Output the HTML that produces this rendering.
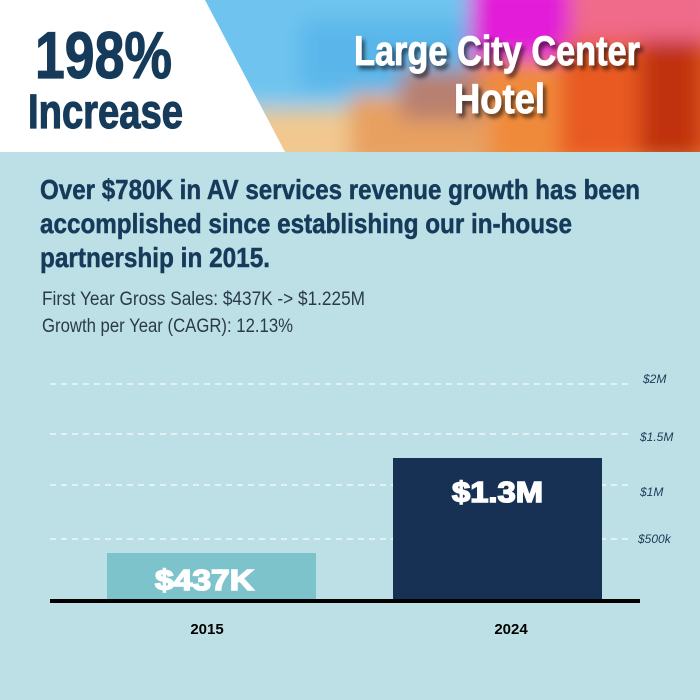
<!DOCTYPE html>
<html><head><meta charset="utf-8"><style>
html,body{margin:0;padding:0;width:700px;height:700px;overflow:hidden;background:#bde0e6}
svg{display:block}
</style></head><body>
<svg width="700" height="700" viewBox="0 0 700 700" xmlns="http://www.w3.org/2000/svg">
<defs>
<filter id="bl" x="-30%" y="-30%" width="160%" height="160%"><feGaussianBlur stdDeviation="10"/></filter>
<filter id="sh" x="-10%" y="-10%" width="130%" height="140%"><feDropShadow dx="3" dy="4" stdDeviation="2" flood-color="#000" flood-opacity="0.6"/></filter>
<clipPath id="hc"><rect x="0" y="0" width="700" height="152"/></clipPath>
</defs>
<rect x="0" y="0" width="700" height="700" fill="#bde0e6"/>
<g clip-path="url(#hc)">
<rect x="180" y="0" width="520" height="152" fill="#8fcbe8"/>
<g filter="url(#bl)">
<rect x="180" y="-20" width="300" height="120" fill="#6ec4ee"/>
<rect x="300" y="20" width="180" height="70" fill="#5ab6ea"/>
<rect x="470" y="-20" width="110" height="90" fill="#e21ad8"/>
<rect x="570" y="-20" width="150" height="60" fill="#f06a8a"/>
<rect x="470" y="60" width="250" height="110" fill="#f08a3a"/>
<rect x="560" y="40" width="160" height="120" fill="#e85a20"/>
<rect x="250" y="110" width="230" height="60" fill="#f2c890"/>
<rect x="350" y="95" width="140" height="70" fill="#e8a060"/>
<rect x="640" y="40" width="60" height="120" fill="#c03010"/>
<rect x="400" y="70" width="80" height="50" fill="#b88070"/>
</g>
</g>
<polygon points="0,0 205,0 285,152 0,152" fill="#ffffff"/>
<g font-family="'Liberation Sans Narrow','Liberation Sans',sans-serif" font-weight="bold" fill="#163a5a" stroke="#163a5a" stroke-width="1.2">
<text x="35" y="78" font-size="66" textLength="137" lengthAdjust="spacingAndGlyphs">198%</text>
<text x="28" y="128" font-size="48" textLength="155" lengthAdjust="spacingAndGlyphs">Increase</text>
</g>
<g font-family="'Liberation Sans Narrow','Liberation Sans',sans-serif" font-weight="bold" fill="#ffffff" stroke="#ffffff" stroke-width="0.8" filter="url(#sh)">
<text x="354" y="65" font-size="42" textLength="286" lengthAdjust="spacingAndGlyphs">Large City Center</text>
<text x="454" y="113" font-size="42" textLength="91" lengthAdjust="spacingAndGlyphs">Hotel</text>
</g>
<g font-family="'Liberation Sans Narrow','Liberation Sans',sans-serif" font-weight="bold" fill="#163a5a" stroke="#163a5a" stroke-width="0.5" font-size="28">
<text x="40" y="199" textLength="600" lengthAdjust="spacingAndGlyphs">Over $780K in AV services revenue growth has been</text>
<text x="40" y="233" textLength="532" lengthAdjust="spacingAndGlyphs">accomplished since establishing our in-house</text>
<text x="40" y="267" textLength="230" lengthAdjust="spacingAndGlyphs">partnership in 2015.</text>
</g>
<g font-family="'Liberation Sans Narrow','Liberation Sans',sans-serif" fill="#2a3a4a" font-size="19">
<text x="42" y="305" textLength="323" lengthAdjust="spacingAndGlyphs">First Year Gross Sales: $437K -&gt; $1.225M</text>
<text x="42" y="332" textLength="251" lengthAdjust="spacingAndGlyphs">Growth per Year (CAGR): 12.13%</text>
</g>
<g stroke="#ffffff" stroke-width="1.3" stroke-dasharray="6,5" opacity="0.9">
<line x1="50" y1="384" x2="628" y2="384"/>
<line x1="50" y1="434" x2="628" y2="434"/>
<line x1="50" y1="485" x2="628" y2="485"/>
<line x1="50" y1="539" x2="628" y2="539"/>
</g>
<g font-family="'Liberation Sans',sans-serif" font-style="italic" fill="#1c3a5a" font-size="12">
<text x="643" y="383">$2M</text>
<text x="640" y="441">$1.5M</text>
<text x="640" y="496">$1M</text>
<text x="638" y="543">$500k</text>
</g>
<rect x="107" y="553" width="209" height="47" fill="#7cc3cc"/>
<rect x="393" y="458" width="209" height="142" fill="#163154"/>
<rect x="50" y="599" width="590" height="4" fill="#000"/>
<g font-family="'Liberation Sans',sans-serif" font-weight="bold" fill="#ffffff" stroke="#ffffff" stroke-width="1.5" font-size="29">
<text x="155" y="590" textLength="99" lengthAdjust="spacingAndGlyphs">$437K</text>
<text x="452" y="502" textLength="91" lengthAdjust="spacingAndGlyphs">$1.3M</text>
</g>
<g font-family="'Liberation Sans',sans-serif" font-weight="bold" fill="#000" font-size="15" text-anchor="middle">
<text x="207" y="634">2015</text>
<text x="511" y="634">2024</text>
</g>
</svg>
</body></html>
